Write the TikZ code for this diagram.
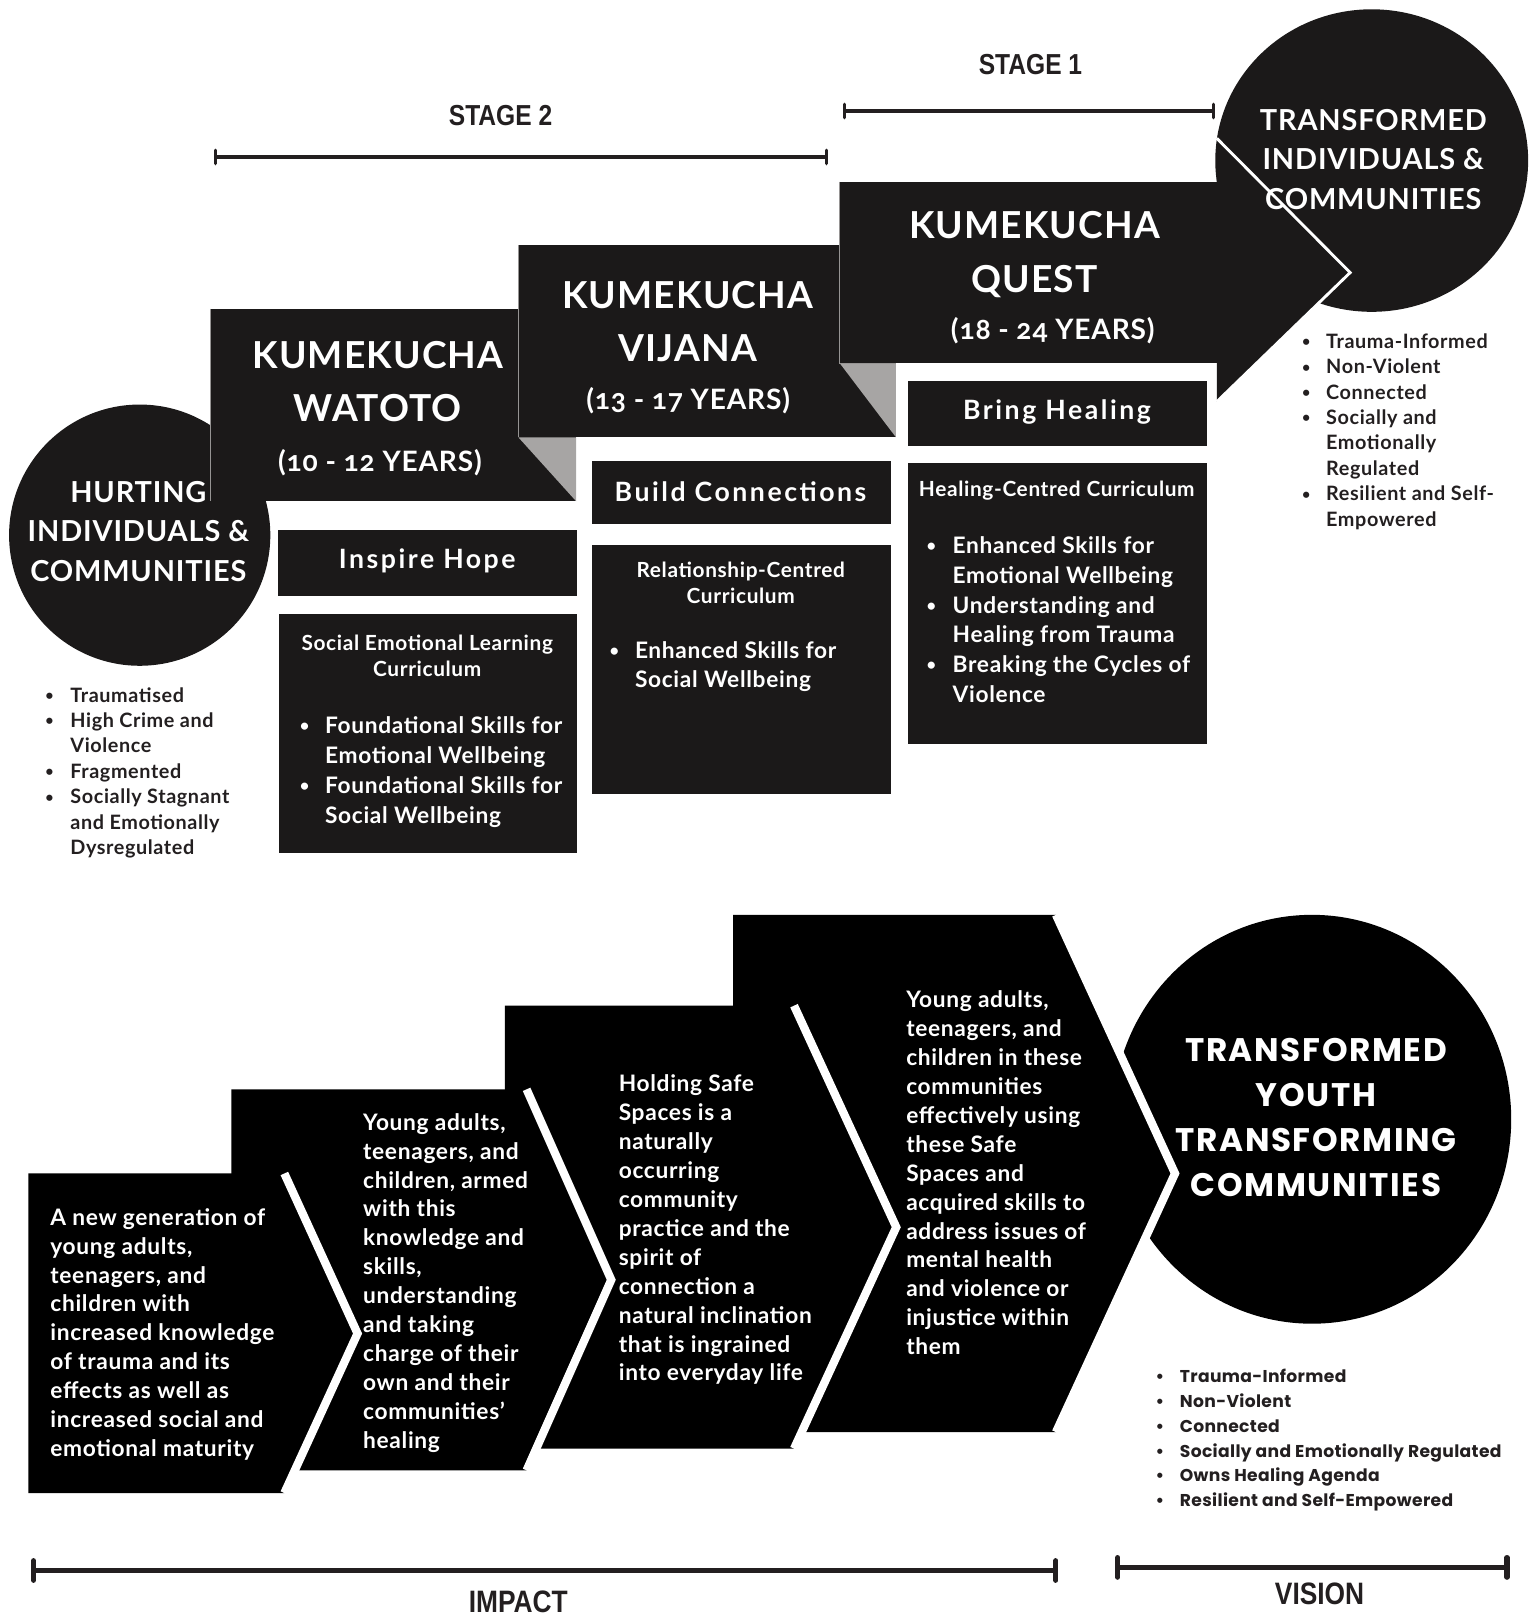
\documentclass[tikz,border=0pt]{standalone}
\usepackage{fontspec}
\usepackage{graphicx}
\setmainfont{Lato}[LetterSpace=3]
\newfontfamily\yearsfont{Lato}[LetterSpace=3,Numbers=OldStyle]
\newfontfamily\spacedfont{Lato}[LetterSpace=9.5]
\newfontfamily\popfont{Poppins}[LetterSpace=2]
\newfontfamily\widefont{Poppins}[LetterSpace=5]
\newfontfamily\narrowfont{Liberation Sans}[FakeStretch=0.85]
\usetikzlibrary{arrows.meta}

\definecolor{boxblack}{RGB}{27,25,25}
\definecolor{foldgrey}{RGB}{167,165,164}
\definecolor{boxedge}{RGB}{150,148,147}
\definecolor{barcol}{RGB}{35,31,32}

\newcommand{\rows}[2]{\begin{tabular}[t]{@{}#1@{}}#2\end{tabular}}
\newcommand{\blist}[2]{\begin{tabular}[t]{@{}l@{\hspace{#1}}l@{}}#2\end{tabular}}
\newcommand{\bu}{\makebox[0pt]{\raisebox{0.08em}{\scalebox{0.72}{\textbullet}}}}
\newcommand{\pbu}{\makebox[0pt]{\textbullet}}

\begin{document}
\begin{tikzpicture}[x=0.5pt, y=-0.5pt,
    every node/.style={inner sep=0pt},
    darkbox/.style={fill=boxblack},
    fold/.style={fill=foldgrey},
    boxline/.style={draw=boxedge, line width=0.6pt},
    stripe/.style={draw=white, line width=4pt},
    title/.style={text=white, anchor=base, font=\bfseries\fontsize{18}{26}\selectfont},
    years/.style={text=white, anchor=base, font=\yearsfont\bfseries\fontsize{13.6}{16}\selectfont},
    circtext/.style={text=white, anchor=base, font=\bfseries\fontsize{14}{19.3}\selectfont},
    tag/.style={text=white, anchor=base, font=\spacedfont\bfseries\fontsize{12.9}{15}\selectfont},
    curhead/.style={text=white, anchor=base, font=\bfseries\fontsize{10.1}{12.75}\selectfont},
    curlist/.style={text=white, anchor=base west, font=\bfseries\fontsize{11}{14.45}\selectfont},
    outlist/.style={text=barcol, anchor=base west, font=\bfseries\fontsize{9.6}{12.3}\selectfont},
    poplist/.style={text=barcol, anchor=base west, font=\popfont\bfseries\fontsize{8.3}{12}\selectfont},
    chevtext/.style={text=white, anchor=base west, font=\bfseries\fontsize{11}{14}\selectfont},
    bigtext/.style={text=white, anchor=base, font=\widefont\bfseries\fontsize{15.8}{21.7}\selectfont},
    stagelabel/.style={text=barcol, anchor=base, font=\narrowfont\bfseries\fontsize{14}{16}\selectfont},
    endlabel/.style={text=barcol, anchor=base, font=\narrowfont\bfseries\fontsize{15}{17}\selectfont},
    stagebar/.style={draw=barcol, line width=1.6pt, {Bar[width=6.5pt,round]}-{Bar[width=6.5pt,round]}},
    endbar/.style={draw=barcol, line width=2.5pt, {Bar[width=9.5pt,round]}-{Bar[width=9.5pt,round]}}]
\useasboundingbox (0,0) rectangle (1482,1568);

% ---- top: the three age groups ----
\fill[darkbox] (135.3,518.3) circle [radius=126.5];

\fill[darkbox] (204,299) rectangle (558,485.5);
\fill[fold] (502,423.5) -- (558,423.5) -- (558,485.5) -- cycle;
\draw[boxline] (204,299) -- (204,485.5);

\fill[darkbox] (502,237.3) rectangle (867.7,423.5);
\fill[fold] (813.4,351.9) -- (867.7,351.9) -- (867.7,423.5) -- cycle;
\draw[boxline] (502,237.3) -- (502,423.5);

\fill[darkbox] (1328.5,155.5) ellipse [x radius=151.5, y radius=146.5];
\fill[darkbox] (1178.5,134) -- (1307.6,264) -- (1178.5,389) -- cycle;
\draw[draw=white, line width=1.4pt] (1178.5,134) -- (1307.6,264) -- (1178.5,389);
\fill[darkbox] (813.4,175.9) rectangle (1181,351.9);
\draw[boxline] (813.4,175.9) -- (813.4,351.9) -- (867.7,351.9);

\node[title] (watoto) at (366,356.5) {\rows{c}{KUMEKUCHA\\WATOTO}};
\node[years] (watotoage) at (368,456.6) {(10 - 12 YEARS)};
\node[title] (vijana) at (666,298.4) {\rows{c}{KUMEKUCHA\\VIJANA}};
\node[years] (vijanaage) at (666.5,396.2) {(13 - 17 YEARS)};
\node[title] (quest) at (1002,231.3) {\rows{c}{KUMEKUCHA\\QUEST}};
\node[years] (questage) at (1019.6,328.7) {(18 - 24 YEARS)};

\node[circtext] (hurting) at (134,486.2) {\rows{c}{HURTING\\INDIVIDUALS \&\\COMMUNITIES}};
\node[circtext] (transformed) at (1330,126) {\rows{c}{TRANSFORMED\\INDIVIDUALS \&\\COMMUNITIES}};

% goal and curriculum boxes
\fill[darkbox] (269.5,513.3) rectangle (558.6,577);
\fill[darkbox] (270.6,594.8) rectangle (558.6,826.5);
\fill[darkbox] (573.3,446.8) rectangle (863.2,507.8);
\fill[darkbox] (573.3,527.5) rectangle (863.2,769);
\fill[darkbox] (879.2,369.2) rectangle (1169.1,431.5);
\fill[darkbox] (879.2,448.4) rectangle (1169.1,720.8);

\node[tag] (hope) at (413.8,551) {Inspire Hope};
\node[tag] (connect) at (717.2,485.3) {Build Connections};
\node[tag] (heal) at (1023.7,406.2) {Bring Healing};

\node[curhead] (selhead) at (413.8,630) {\rows{c}{Social Emotional Learning\\Curriculum}};
\node[curlist] (sellist) at (294.7,710.5) {\blist{9.85pt}{\bu & Foundational Skills for\\ & Emotional Wellbeing\\ \bu & Foundational Skills for\\ & Social Wellbeing}};
\node[curhead] (relhead) at (717.4,559) {\rows{c}{Relationship-Centred\\Curriculum}};
\node[curlist] (rellist) at (594.6,637.3) {\blist{10pt}{\bu & Enhanced Skills for\\ & Social Wellbeing}};
\node[curhead] (healhead) at (1023.5,481.3) {Healing-Centred Curriculum};
\node[curlist] (heallist) at (901.5,536) {\blist{10.4pt}{\bu & Enhanced Skills for\\ & Emotional Wellbeing\\ \bu & Understanding and\\ & Healing from Trauma\\ \bu & Breaking the Cycles of\\ & Violence}};

\node[outlist] (hurtlist) at (47.5,680) {\blist{10.15pt}{\bu & Traumatised\\ \bu & High Crime and\\ & Violence\\ \bu & Fragmented\\ \bu & Socially Stagnant\\ & and Emotionally\\ & Dysregulated}};
\node[outlist] (translist) at (1264.7,337.4) {\blist{9.65pt}{\bu & Trauma-Informed\\ \bu & Non-Violent\\ \bu & Connected\\ \bu & Socially and\\ & Emotionally\\ & Regulated\\ \bu & Resilient and Self-\\ & Empowered}};

% stage bars
\coordinate (stage2L) at (207,152);
\coordinate (stage2R) at (802,152);
\coordinate (stage1L) at (816.6,107.5);
\coordinate (stage1R) at (1176.7,107.5);
\draw[stagebar] (stage2L) -- (stage2R);
\draw[stagebar] (stage1L) -- (stage1R);
\node[stagelabel] (stage2) at (484.8,122) {STAGE 2};
\node[stagelabel] (stage1) at (998,72) {STAGE 1};

% ---- bottom: impact chevrons ----
\fill[black] (1270.6,1084) ellipse [x radius=193, y radius=198];

\fill[black] (710,886) -- (1022.7,886) -- (1138,1136.5) -- (1022.7,1387) -- (710,1387) -- cycle;
\draw[stripe] (1022.7,886) -- (1138,1136.5) -- (1022.7,1387);
\fill[black] (489,974) -- (769,974) -- (868,1188.5) -- (769,1403) -- (489,1403) -- cycle;
\draw[stripe] (769,974) -- (868,1188.5) -- (769,1403);
\fill[black] (224,1055) -- (510,1055) -- (592,1239.5) -- (510,1424) -- (224,1424) -- cycle;
\draw[stripe] (510,1055) -- (592,1239.5) -- (510,1424);
\fill[black] (27.4,1136.5) -- (275.4,1136.5) -- (346.3,1291.5) -- (275.4,1446) -- (27.4,1446) -- cycle;
\draw[stripe] (275.4,1136.5) -- (346.3,1291.5) -- (275.4,1446);

\node[chevtext] (impact1) at (48.4,1186.6) {\rows{l}{A new generation of\\young adults,\\teenagers, and\\children with\\increased knowledge\\of trauma and its\\effects as well as\\increased social and\\emotional maturity}};
\node[chevtext] (impact2) at (351.3,1094.6) {\rows{l}{Young adults,\\teenagers, and\\children, armed\\with this\\knowledge and\\skills,\\understanding\\and taking\\charge of their\\own and their\\communities’\\healing}};
\node[chevtext] (impact3) at (598.9,1057.4) {\rows{l}{Holding Safe\\Spaces is a\\naturally\\occurring\\community\\practice and the\\spirit of\\connection a\\natural inclination\\that is ingrained\\into everyday life}};
\node[chevtext] (impact4) at (877.3,976) {\rows{l}{Young adults,\\teenagers, and\\children in these\\communities\\effectively using\\these Safe\\Spaces and\\acquired skills to\\address issues of\\mental health\\and violence or\\injustice within\\them}};

\node[bigtext] (youth) at (1274.5,1028.3) {\rows{c}{TRANSFORMED\\YOUTH\\TRANSFORMING\\COMMUNITIES}};
\node[poplist] (youthlist) at (1123,1339.2) {\blist{9.65pt}{\pbu & Trauma-Informed\\ \pbu & Non-Violent\\ \pbu & Connected\\ \pbu & Socially and Emotionally Regulated\\ \pbu & Owns Healing Agenda\\ \pbu & Resilient and Self-Empowered}};

% impact and vision bars
\coordinate (impactL) at (30,1521);
\coordinate (impactR) at (1025,1521);
\coordinate (visionL) at (1080,1518);
\coordinate (visionR) at (1462,1518);
\draw[endbar] (impactL) -- (impactR);
\draw[endbar] (visionL) -- (visionR);
\node[endlabel] (impact) at (502,1562) {IMPACT};
\node[endlabel] (vision) at (1278,1553.7) {VISION};
\end{tikzpicture}
\end{document}
